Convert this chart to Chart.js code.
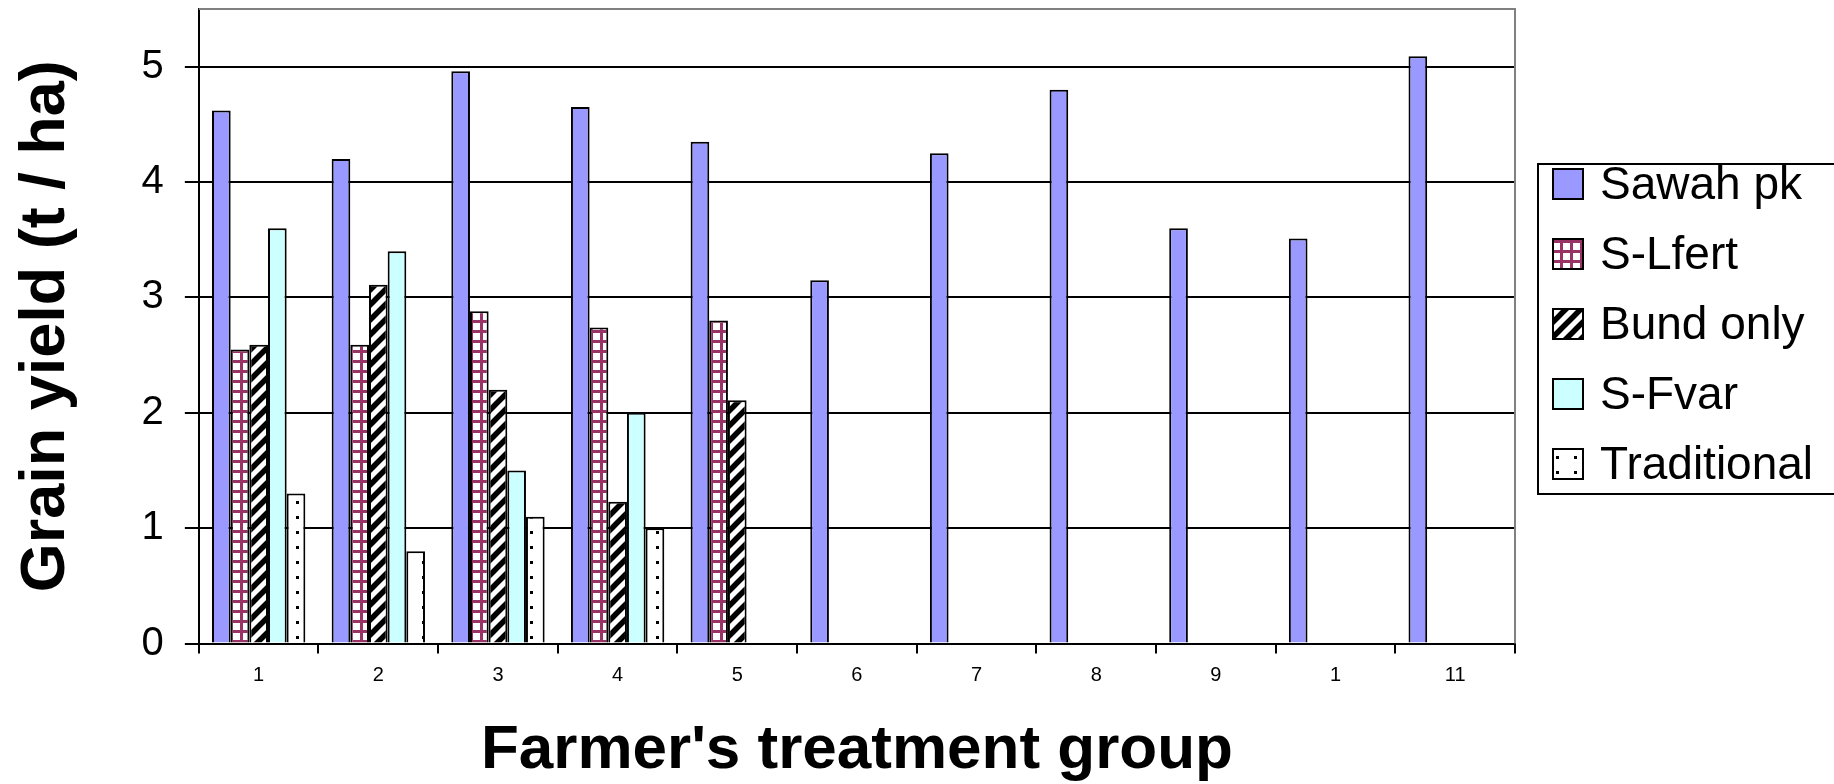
<!DOCTYPE html>
<html>
<head>
<meta charset="utf-8">
<title>Grain yield by farmer's treatment group</title>
<script src="https://cdn.jsdelivr.net/npm/chart.js@4.4.1/dist/chart.umd.min.js"></script>
<style>
    html, body { margin: 0; padding: 0; background: #fff; overflow: hidden; }
    #wrap { width: 1834px; height: 784px; }
</style>
</head>
<body>
<div id="wrap"><canvas id="chart" width="1834" height="784"></canvas></div>
<script>
// Chart values
const groups = ['1', '2', '3', '4', '5', '6', '7', '8', '9', '1', '11'];
const sawahPk = [4.62, 4.20, 4.96, 4.65, 4.35, 3.15, 4.25, 4.80, 3.60, 3.51, 5.09];
const sLfert = [2.55, 2.59, 2.88, 2.74, 2.80, null, null, null, null, null, null];
const bundOnly = [2.59, 3.11, 2.20, 1.23, 2.11, null, null, null, null, null, null];
const sFvar = [3.60, 3.40, 1.50, 2.00, null, null, null, null, null, null, null];
const traditional = [1.30, 0.80, 1.10, 1.00, null, null, null, null, null, null, null];
const yTicks = [0, 1, 2, 3, 4, 5];

const FONT = "'Liberation Sans', Arial, sans-serif";
Chart.defaults.font.family = FONT;
Chart.defaults.color = '#000';

const ctx = document.getElementById('chart').getContext('2d');

// Small fill patterns like the old spreadsheet ones
function makePattern(w, h, draw) {
    const c = document.createElement('canvas');
    c.width = w;
    c.height = h;
    const g = c.getContext('2d');
    g.fillStyle = '#fff';
    g.fillRect(0, 0, w, h);
    draw(g);
    return ctx.createPattern(c, 'repeat');
}

const gridFill = makePattern(10, 10, g => {
    g.fillStyle = '#993366';
    g.fillRect(0, 0, 3, 10);
    g.fillRect(0, 0, 10, 3);
});

const stripeFill = makePattern(15, 15, g => {
    g.strokeStyle = '#000';
    g.lineWidth = 5.5;
    g.beginPath();
    g.moveTo(0, 15); g.lineTo(15, 0);
    g.moveTo(-5, 5); g.lineTo(5, -5);
    g.moveTo(10, 20); g.lineTo(20, 10);
    g.stroke();
});

const dotFill = makePattern(18, 15, g => {
    g.fillStyle = '#000';
    g.fillRect(8, 6, 3, 3);
});

// gray top and right edge of the plot area
const plotFrame = {
    id: 'plotFrame',
    beforeDatasetsDraw(chart) {
        const a = chart.chartArea;
        const c = chart.ctx;
        c.save();
        c.strokeStyle = '#808080';
        c.lineWidth = 2;
        c.beginPath();
        c.moveTo(a.left, a.top);
        c.lineTo(a.right, a.top);
        c.lineTo(a.right, a.bottom);
        c.stroke();
        c.restore();
    }
};

// boxed legend on the right, running off the edge like the original
const boxLegend = {
    id: 'boxLegend',
    afterDraw(chart) {
        const c = chart.ctx;
        const x0 = 1538, y0 = 164;
        c.save();
        c.strokeStyle = '#000';
        c.lineWidth = 2;
        c.strokeRect(x0, y0, 330, 330);
        c.font = '46px ' + FONT;
        c.textBaseline = 'middle';
        c.textAlign = 'left';
        chart.data.datasets.forEach((ds, i) => {
            const cy = 184 + i * 70;
            c.fillStyle = ds.backgroundColor;
            c.fillRect(1553, cy - 15, 30, 30);
            c.strokeRect(1553, cy - 15, 30, 30);
            c.fillStyle = '#000';
            c.fillText(ds.label, 1600, cy + 2);
        });
        c.restore();
    }
};

const common = { borderColor: '#000', borderWidth: 2, categoryPercentage: 0.78, barPercentage: 1.0 };

new Chart(ctx, {
    type: 'bar',
    data: {
        labels: groups,
        datasets: [
            { label: 'Sawah pk', data: sawahPk, backgroundColor: '#9999FF', ...common },
            { label: 'S-Lfert', data: sLfert, backgroundColor: gridFill, ...common },
            { label: 'Bund only', data: bundOnly, backgroundColor: stripeFill, ...common },
            { label: 'S-Fvar', data: sFvar, backgroundColor: '#CCFFFF', ...common },
            { label: 'Traditional', data: traditional, backgroundColor: dotFill, ...common }
        ]
    },
    options: {
        responsive: false,
        animation: false,
        layout: { padding: { left: 0, top: 9, right: 319, bottom: 0 } },
        plugins: {
            legend: { display: false },
            tooltip: { enabled: false }
        },
        scales: {
            x: {
                ticks: { font: { size: 20 }, color: '#000', padding: 10, maxRotation: 0, autoSkip: false },
                grid: { offset: true, drawOnChartArea: false, color: '#000', lineWidth: 2, tickLength: 10 },
                border: { color: '#000', width: 2 },
                title: {
                    display: true,
                    text: "Farmer's treatment group",
                    font: { size: 62, weight: 'bold' },
                    color: '#000',
                    padding: { top: 16, bottom: -4 }
                }
            },
            y: {
                min: 0,
                max: 5.5,
                afterBuildTicks: scale => { scale.ticks = yTicks.map(v => ({ value: v })); },
                afterFit: scale => { scale.paddingTop = 0; },
                ticks: { font: { size: 40 }, color: '#000', padding: 21 },
                grid: { color: '#000', lineWidth: 2, tickLength: 14 },
                border: { color: '#000', width: 2 },
                title: {
                    display: true,
                    text: 'Grain yield (t / ha)',
                    font: { size: 63, weight: 'bold' },
                    color: '#000',
                    padding: { top: 9, bottom: 36 }
                }
            }
        }
    },
    plugins: [plotFrame, boxLegend]
});
</script>
</body>
</html>
